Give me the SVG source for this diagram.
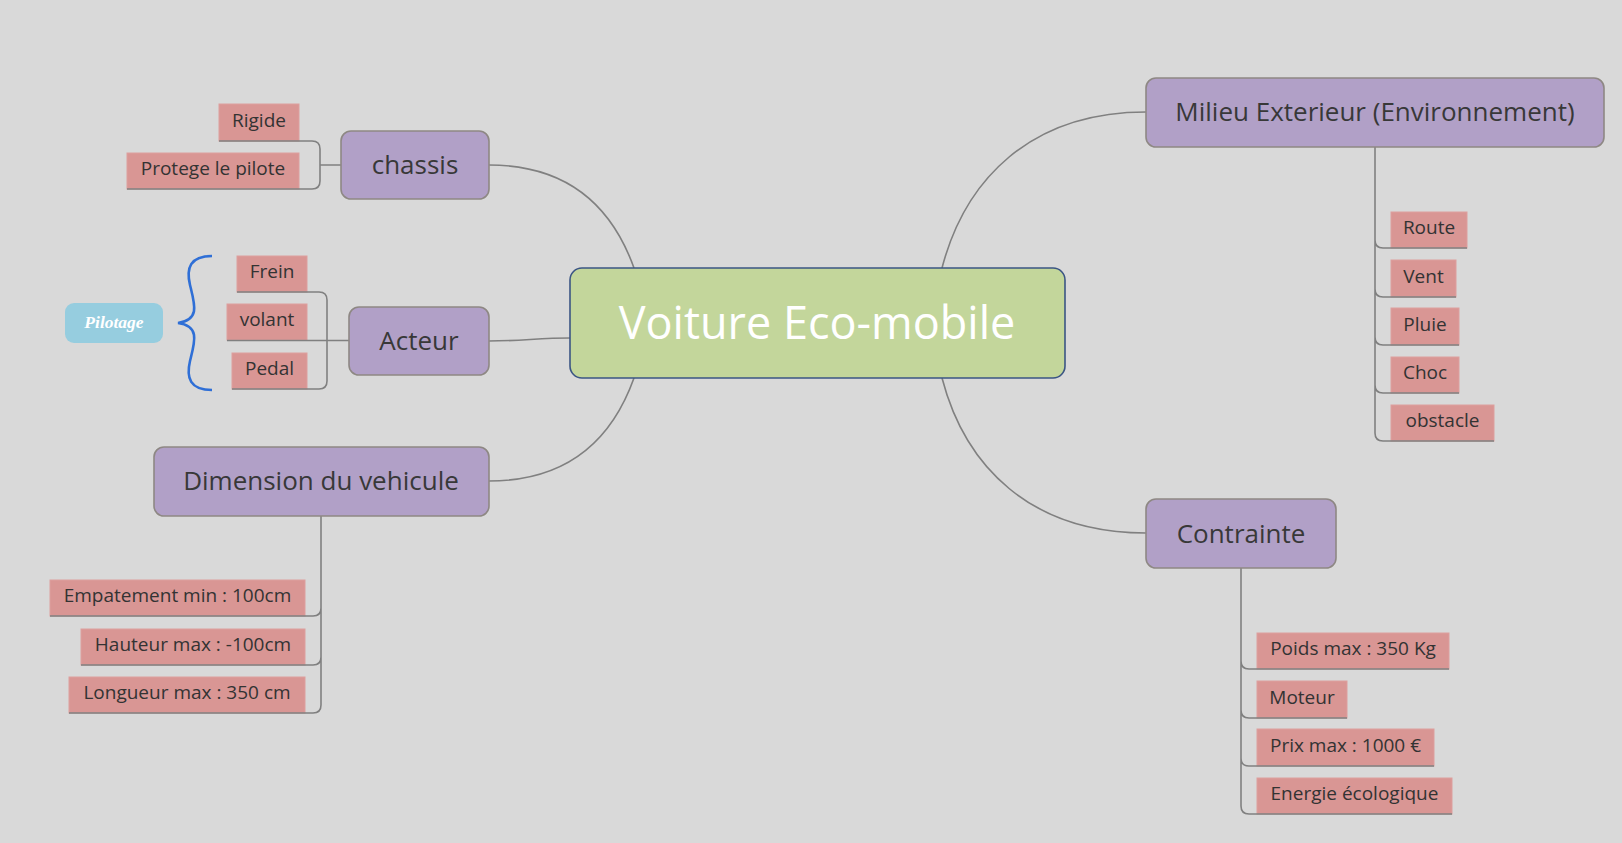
<svg xmlns="http://www.w3.org/2000/svg" width="1622" height="843" viewBox="0 0 1622 843">
<style>
.bg{fill:#d9d9d9}
.conn{fill:none;stroke:#808080;stroke-width:1.6}
.sub rect{fill:#b1a0c7;stroke:#8e8884;stroke-width:1.6}
.sub text{font-family:"Open Sans","Liberation Sans",sans-serif;font-size:26px;fill:#383838;text-anchor:middle}
.leaf rect{fill:#d99694;stroke:#dd9f9e;stroke-width:1}
.leaf text{font-family:"Open Sans","Liberation Sans",sans-serif;font-size:19px;fill:#333;text-anchor:middle}
</style>
<rect class="bg" x="0" y="0" width="1622" height="843"/>

<g id="leaves">
<g id="rigide" class="leaf"><rect x="219" y="104" width="80" height="37"/><text x="259" y="127">Rigide</text></g>
<g id="protege" class="leaf"><rect x="127" y="153" width="172" height="36"/><text x="213" y="175">Protege le pilote</text></g>
<g id="frein" class="leaf"><rect x="237" y="256" width="70" height="36"/><text x="272" y="278">Frein</text></g>
<g id="volant" class="leaf"><rect x="227" y="304" width="80" height="36"/><text x="267" y="326">volant</text></g>
<g id="pedal" class="leaf"><rect x="232" y="353" width="75" height="36"/><text x="269.5" y="375">Pedal</text></g>
<g id="empatement" class="leaf"><rect x="50" y="580" width="255" height="36"/><text x="177.5" y="602">Empatement min : 100cm</text></g>
<g id="hauteur" class="leaf"><rect x="81" y="629" width="224" height="36"/><text x="193" y="651">Hauteur max : -100cm</text></g>
<g id="longueur" class="leaf"><rect x="69" y="677" width="236" height="36"/><text x="187" y="699">Longueur max : 350 cm</text></g>
<g id="route" class="leaf"><rect x="1391" y="212" width="76" height="36"/><text x="1429" y="234">Route</text></g>
<g id="vent" class="leaf"><rect x="1391" y="260" width="65" height="37"/><text x="1423.5" y="283">Vent</text></g>
<g id="pluie" class="leaf"><rect x="1391" y="308" width="68" height="37"/><text x="1425" y="331">Pluie</text></g>
<g id="choc" class="leaf"><rect x="1391" y="357" width="68" height="36"/><text x="1425" y="379">Choc</text></g>
<g id="obstacle" class="leaf"><rect x="1391" y="405" width="103" height="36"/><text x="1442.5" y="427">obstacle</text></g>
<g id="poids" class="leaf"><rect x="1257" y="633" width="192" height="36"/><text x="1353" y="655">Poids max : 350 Kg</text></g>
<g id="moteur" class="leaf"><rect x="1257" y="681" width="90" height="37"/><text x="1302" y="704">Moteur</text></g>
<g id="prix" class="leaf"><rect x="1257" y="729" width="177" height="37"/><text x="1345.5" y="752">Prix max : 1000 €</text></g>
<g id="energie" class="leaf"><rect x="1257" y="778" width="195" height="36"/><text x="1354.5" y="800">Energie écologique</text></g>
</g>

<g id="connectors">
<path class="conn" d="M489,165 C575,165 615,215 634,268"/>
<path class="conn" d="M489,341 C520,341 540,338 570,338"/>
<path class="conn" d="M489,481 C575,481 615,431 634,378"/>
<path class="conn" d="M1146,112 C1030,112 965,180 942,268"/>
<path class="conn" d="M1146,533 C1030,533 965,466 942,378"/>
<path class="conn" d="M219,141 H312 Q320,141 320,149 V181 Q320,189 312,189 H127 M320,165 H341"/>
<path class="conn" d="M237,292 H319 Q327,292 327,300 V381 Q327,389 319,389 H232 M227,340.5 H349"/>
<path class="conn" d="M321,516 V705 Q321,713 313,713 H69 M321,600 V608 Q321,616 313,616 H50 M321,649 V657 Q321,665 313,665 H81"/>
<path class="conn" d="M1375,147 V433 Q1375,441 1383,441 H1494 M1375,232 V240 Q1375,248 1383,248 H1467 M1375,281 V289 Q1375,297 1383,297 H1456 M1375,329 V337 Q1375,345 1383,345 H1459 M1375,377 V385 Q1375,393 1383,393 H1459"/>
<path class="conn" d="M1241,568 V806 Q1241,814 1249,814 H1452 M1241,653 V661 Q1241,669 1249,669 H1449 M1241,702 V710 Q1241,718 1249,718 H1347 M1241,750 V758 Q1241,766 1249,766 H1434"/>
</g>

<g id="central">
<rect x="570" y="268" width="495" height="110" rx="12" fill="#c3d69b" stroke="#3b5584" stroke-width="1.6"/>
<text x="817" y="339" font-family="'Open Sans','Liberation Sans',sans-serif" font-size="45" fill="#ffffff" text-anchor="middle">Voiture Eco-mobile</text>
</g>
<g id="chassis" class="sub"><rect x="341" y="131" width="148" height="68" rx="10"/><text x="415" y="174">chassis</text></g>
<g id="acteur" class="sub"><rect x="349" y="307" width="140" height="68" rx="10"/><text x="419" y="350">Acteur</text></g>
<g id="dimension" class="sub"><rect x="154" y="447" width="335" height="69" rx="10"/><text x="321" y="490">Dimension du vehicule</text></g>
<g id="milieu" class="sub"><rect x="1146" y="78" width="458" height="69" rx="10"/><text x="1375" y="121">Milieu Exterieur (Environnement)</text></g>
<g id="contrainte" class="sub"><rect x="1146" y="499" width="190" height="69" rx="10"/><text x="1241" y="543">Contrainte</text></g>

<g id="pilotage">
<path d="M212,256 C190,256 186,268 190,285 C195,305 200,320 178,323 C200,326 195,341 190,361 C186,378 190,390 212,390" fill="none" stroke="#2f6fd6" stroke-width="2.6"/>
<rect x="65" y="303" width="98" height="40" rx="9" fill="#96cddf"/>
<text x="114" y="328" font-family="'Liberation Serif',serif" font-size="17.5" font-weight="bold" font-style="italic" fill="#ffffff" text-anchor="middle">Pilotage</text>
</g>
</svg>
